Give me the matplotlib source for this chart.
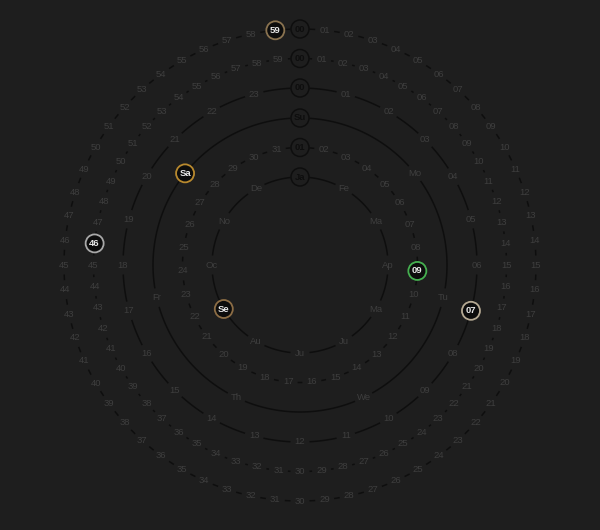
import numpy as np
import matplotlib
matplotlib.use("Agg")
import matplotlib.pyplot as plt
from matplotlib.patches import Circle

# Ring labels, inside to outside
months = ['Ja', 'Fe', 'Ma', 'Ap', 'Ma', 'Ju', 'Ju', 'Au', 'Se', 'Oc', 'No', 'De']
days = ['%02d' % d for d in range(1, 32)]
weekdays = ['Su', 'Mo', 'Tu', 'We', 'Th', 'Fr', 'Sa']
hours = ['%02d' % h for h in range(24)]
minutes = ['%02d' % m for m in range(60)]
seconds = ['%02d' % s for s in range(60)]

rings = [months, days, weekdays, hours, minutes, seconds]
radii = [88, 117.5, 147, 177, 206.5, 236]

# current value of each ring (index into its labels) and its ring colour
current = [8, 8, 6, 7, 46, 59]
current_colors = ['#8c6d45', '#45b050', '#b8892e', '#b5a993', '#a8a8a8', '#8a7350']

bg = '#1e1e1e'
text_color = '#3e3e3e'
line_color = '#0e0e0e'
gap = 9.5  # px of arc left blank around each label

fig = plt.figure(figsize=(6, 5.3), dpi=100, facecolor=bg)
ax = fig.add_axes([0, 0, 1, 1])
ax.set_facecolor(bg)
ax.set_xlim(-300, 300)
ax.set_ylim(-265, 265)
ax.set_aspect('equal')
ax.axis('off')

for labels, r, cur, ccol in zip(rings, radii, current, current_colors):
    n = len(labels)
    theta = np.arange(n) / n * 2 * np.pi  # clockwise from top
    g = gap / r
    # arcs between neighbouring labels
    for i in range(n):
        t = np.linspace(theta[i] + g, theta[i] + 2 * np.pi / n - g, 40)
        ax.plot(r * np.sin(t), r * np.cos(t), color=line_color, lw=1.1,
                solid_capstyle='butt', zorder=1)
    for i, lab in enumerate(labels):
        x, y = r * np.sin(theta[i]), r * np.cos(theta[i])
        if i == cur:
            ax.add_patch(Circle((x, y), 9, facecolor='#0c0c0c', edgecolor=ccol,
                                lw=1.3, zorder=3))
            ax.text(x, y, lab, color='#e8e8e8', fontsize=6.8, fontweight='bold',
                    family='Liberation Sans', ha='center', va='center', zorder=4)
        elif i == 0:
            ax.add_patch(Circle((x, y), 9, facecolor=bg, edgecolor=line_color,
                                lw=1.1, zorder=3))
            ax.text(x, y, lab, color='#0e0e0e', fontsize=6.8, fontweight='bold',
                    family='Liberation Sans', ha='center', va='center', zorder=4)
        else:
            ax.text(x, y, lab, color=text_color, fontsize=6.8,
                    family='Liberation Sans', ha='center', va='center', zorder=4)

fig.savefig('out.png', dpi=100, facecolor=bg)
